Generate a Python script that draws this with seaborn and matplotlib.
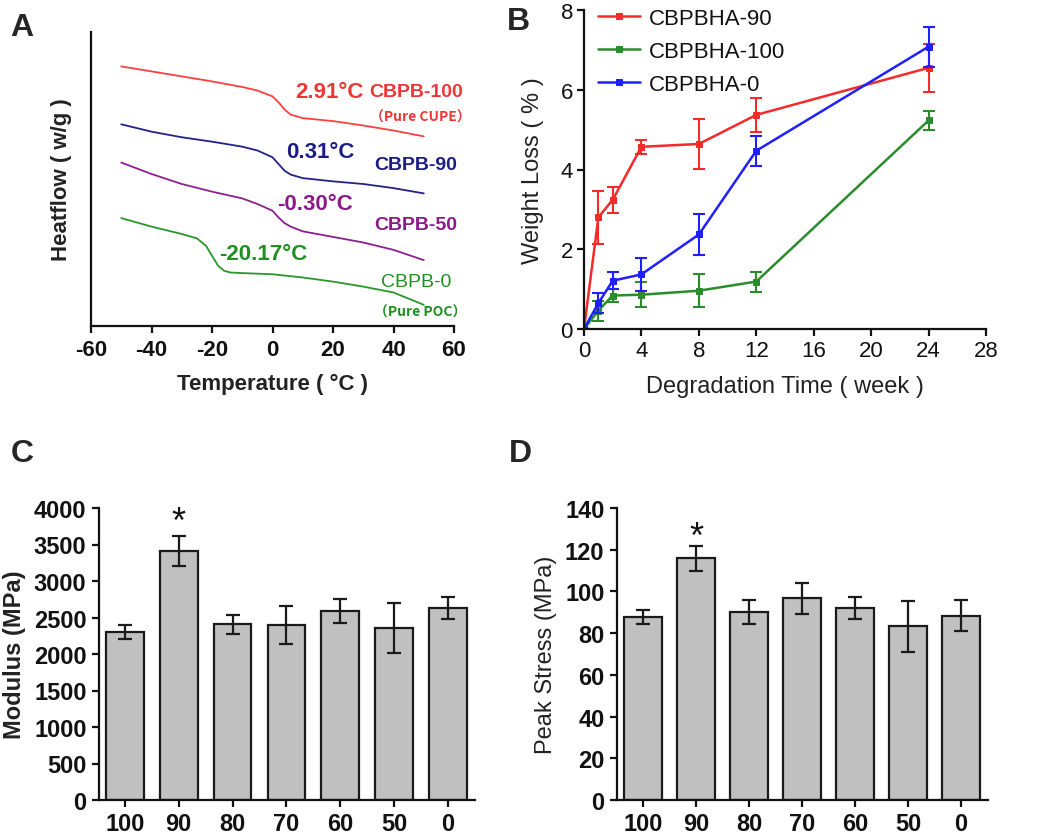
import numpy as np
import pandas as pd
import matplotlib
matplotlib.use("Agg")
import matplotlib.pyplot as plt
import seaborn as sns

sns.set_style("ticks")
plt.rcParams["font.family"] = ["Liberation Sans", "DejaVu Sans"]
plt.rcParams["axes.unicode_minus"] = False
plt.rcParams["axes.linewidth"] = 1.6
plt.rcParams["xtick.major.width"] = 1.6
plt.rcParams["ytick.major.width"] = 1.6
plt.rcParams["xtick.major.size"] = 5
plt.rcParams["ytick.major.size"] = 5
plt.rcParams["xtick.color"] = "#111111"
plt.rcParams["ytick.color"] = "#111111"
plt.rcParams["axes.edgecolor"] = "#111111"

# ---------------- Panel A data (DSC curves, arbitrary heat-flow units) -------------
temp_a = [-50, -40, -30, -20, -10, -5, 0, 2, 4, 6, 8, 10, 20, 30, 40, 50]
hf_cbpb100 = [8.83, 8.66, 8.49, 8.32, 8.13, 8.01, 7.81, 7.61, 7.36, 7.19, 7.13, 7.07, 6.97, 6.82, 6.65, 6.45]
hf_cbpb90 = [6.86, 6.61, 6.42, 6.27, 6.10, 5.97, 5.74, 5.51, 5.28, 5.15, 5.09, 5.03, 4.92, 4.83, 4.69, 4.51]
hf_cbpb50 = [5.56, 5.17, 4.83, 4.57, 4.34, 4.15, 3.92, 3.69, 3.50, 3.38, 3.30, 3.22, 3.03, 2.84, 2.59, 2.24]
temp_a0 = [-50, -40, -30, -25, -22, -20, -18, -16, -14, -10, 0, 10, 20, 30, 40, 50]
hf_cbpb0 = [3.67, 3.38, 3.13, 2.98, 2.73, 2.39, 2.05, 1.88, 1.82, 1.80, 1.76, 1.65, 1.51, 1.34, 1.14, 0.72]
tg_labels = ["2.91°C", "0.31°C", "-0.30°C", "-20.17°C"]
sample_labels = ["CBPB-100", "CBPB-90", "CBPB-50", "CBPB-0"]

# ---------------- Panel B data (weight loss) -------------
weeks = [0, 1, 2, 4, 8, 12, 24]
wl_90 = [0, 2.80, 3.24, 4.57, 4.64, 5.37, 6.55]
wl_90_err = [0, 0.67, 0.33, 0.17, 0.62, 0.43, 0.60]
wl_100 = [0, 0.46, 0.84, 0.86, 0.96, 1.19, 5.23]
wl_100_err = [0, 0.25, 0.17, 0.31, 0.41, 0.25, 0.23]
wl_0 = [0, 0.65, 1.21, 1.37, 2.37, 4.47, 7.08]
wl_0_err = [0, 0.25, 0.21, 0.42, 0.52, 0.38, 0.50]
series_b = ["CBPBHA-90", "CBPBHA-100", "CBPBHA-0"]

# ---------------- Panel C/D data -------------
groups = ["100", "90", "80", "70", "60", "50", "0"]
modulus = [2306, 3411, 2406, 2393, 2584, 2352, 2626]
modulus_err = [95, 200, 130, 260, 165, 340, 150]
peak_stress = [87.8, 115.8, 90.1, 96.8, 92.2, 83.2, 88.3]
peak_stress_err = [3.5, 6.0, 5.6, 7.4, 5.3, 12.2, 7.5]

W, H = 1050, 837
fig = plt.figure(figsize=(W / 100, H / 100), dpi=100)

def ax_px(left, top, right, bottom):
    return fig.add_axes([left / W, (H - bottom) / H, (right - left) / W, (bottom - top) / H])

# ===================== Panel A =====================
axA = ax_px(91, 33, 454, 327)
cols_a = ["#ff4040", "#22228a", "#8e1f8e", "#2a962a"]
df_a = pd.concat([
    pd.DataFrame({"T": temp_a, "hf": hf_cbpb100, "s": "CBPB-100"}),
    pd.DataFrame({"T": temp_a, "hf": hf_cbpb90, "s": "CBPB-90"}),
    pd.DataFrame({"T": temp_a, "hf": hf_cbpb50, "s": "CBPB-50"}),
    pd.DataFrame({"T": temp_a0, "hf": hf_cbpb0, "s": "CBPB-0"}),
])
sns.lineplot(data=df_a, x="T", y="hf", hue="s", palette=dict(zip(sample_labels, cols_a)),
             sort=False, estimator=None, linewidth=1.3, legend=False, ax=axA)
axA.set_xlim(-60, 60)
axA.set_ylim(0, 10)
axA.set_xticks([-60, -40, -20, 0, 20, 40, 60])
axA.set_yticks([])
axA.spines["top"].set_visible(False)
axA.spines["right"].set_visible(False)
axA.tick_params(axis="x", labelsize=16, direction="out", pad=4)
for t in axA.get_xticklabels():
    t.set_fontweight("bold")
axA.set_xlabel("Temperature ( °C )", fontsize=16, fontweight="bold", color="#222222", labelpad=10)
axA.set_ylabel("Heatflow ( w/g )", fontsize=16, fontweight="bold", color="#222222", labelpad=14)

tg_pos = [(18.7, 7.96), (15.7, 5.92), (14.0, 4.15), (-3.1, 2.45)]
name_pos = [(47.4, 7.96), (47.4, 5.51), (47.4, 3.44), (47.6, 1.53)]
txt_cols = ["#f03535", "#1c1c86", "#8a1a8a", "#1f8f1f"]
for lab, (x, y), c in zip(tg_labels, tg_pos, txt_cols):
    axA.text(x, y, lab, color=c, fontsize=16, fontweight="bold", ha="center", va="center", clip_on=False)
for i, (lab, (x, y), c) in enumerate(zip(sample_labels, name_pos, txt_cols)):
    axA.text(x, y, lab, color=c, fontsize=14, fontweight="normal" if i == 3 else "bold",
             ha="center", va="center", clip_on=False)
axA.text(48.8, 7.11, "（Pure CUPE）", color=txt_cols[0], fontsize=10, fontweight="bold",
         ha="center", va="center", clip_on=False, family=["Noto Sans CJK SC", "DejaVu Sans"])
axA.text(48.8, 0.48, "（Pure POC）", color=txt_cols[3], fontsize=10, fontweight="bold",
         ha="center", va="center", clip_on=False, family=["Noto Sans CJK SC", "DejaVu Sans"])

# ===================== Panel B =====================
axB = ax_px(584, 11, 986, 330)
cols_b = ["#f52a2a", "#2b8c2b", "#1f1fff"]
for name, vals, errs, c in zip(series_b, [wl_90, wl_100, wl_0], [wl_90_err, wl_100_err, wl_0_err], cols_b):
    dfb = pd.DataFrame({"week": weeks, "loss": vals})
    sns.lineplot(data=dfb, x="week", y="loss", color=c, marker="s", markersize=5,
                 markeredgecolor=c, linewidth=1.8, label=name, ax=axB, errorbar=None)
    axB.errorbar(weeks, vals, yerr=errs, fmt="none", ecolor=c, elinewidth=1.5, capsize=4, capthick=1.5)
axB.set_xlim(0, 28)
axB.set_ylim(0, 8)
axB.set_xticks(range(0, 29, 4))
axB.set_yticks(range(0, 9, 2))
axB.spines["top"].set_visible(False)
axB.spines["right"].set_visible(False)
axB.tick_params(labelsize=16, direction="out", pad=3)
axB.set_xlabel("Degradation Time ( week )", fontsize=17, color="#222222", labelpad=10)
axB.set_ylabel("Weight Loss ( % )", fontsize=17, color="#222222", labelpad=12)
leg = axB.legend(loc="upper left", bbox_to_anchor=(0.035, 1.007), frameon=False, fontsize=16,
                 handlelength=1.9, handletextpad=0.4, labelspacing=0.55, borderpad=0, borderaxespad=0)
for t in leg.get_texts():
    t.set_color("#111111")

# ===================== Panels C and D =====================
def bar_panel(ax, values, errs, ylim, yticks, ylabel, star_y, label_weight):
    dfc = pd.DataFrame({"g": groups, "v": values})
    sns.barplot(data=dfc, x="g", y="v", order=groups, color="#c0c0c0", saturation=1,
                edgecolor="#1a1a1a", linewidth=1.6, width=0.7, errorbar=None, ax=ax)
    ax.errorbar(range(len(groups)), values, yerr=errs, fmt="none", ecolor="#1a1a1a",
                elinewidth=1.6, capsize=5, capthick=1.6)
    ax.set_ylim(*ylim)
    ax.set_yticks(yticks)
    ax.spines["top"].set_visible(False)
    ax.spines["right"].set_visible(False)
    ax.tick_params(labelsize=17, direction="out", pad=4)
    for t in ax.get_xticklabels() + ax.get_yticklabels():
        t.set_fontweight("bold")
    ax.set_xlabel("")
    ax.set_ylabel(ylabel, fontsize=17, fontweight=label_weight, color="#222222", labelpad=6)
    ax.text(1, star_y, "*", fontsize=26, ha="center", va="center", color="#111111")

axC = ax_px(99, 509, 475, 801)
bar_panel(axC, modulus, modulus_err, (0, 4000), range(0, 4001, 500), "Modulus (MPa)", 3800, "bold")
axC.set_xlim(-0.48, 6.5)

axD = ax_px(617, 509, 988, 801)
bar_panel(axD, peak_stress, peak_stress_err, (0, 140), range(0, 141, 20), "Peak Stress (MPa)", 126, "normal")
axD.set_xlim(-0.49, 6.51)

# Panel letters
for letter, x, y in [("A", 22, 28), ("B", 518, 22), ("C", 22, 454), ("D", 520, 454)]:
    fig.text(x / W, 1 - y / H, letter, fontsize=23, fontweight="bold", ha="center", va="center")

fig.savefig("out.png", dpi=100)
